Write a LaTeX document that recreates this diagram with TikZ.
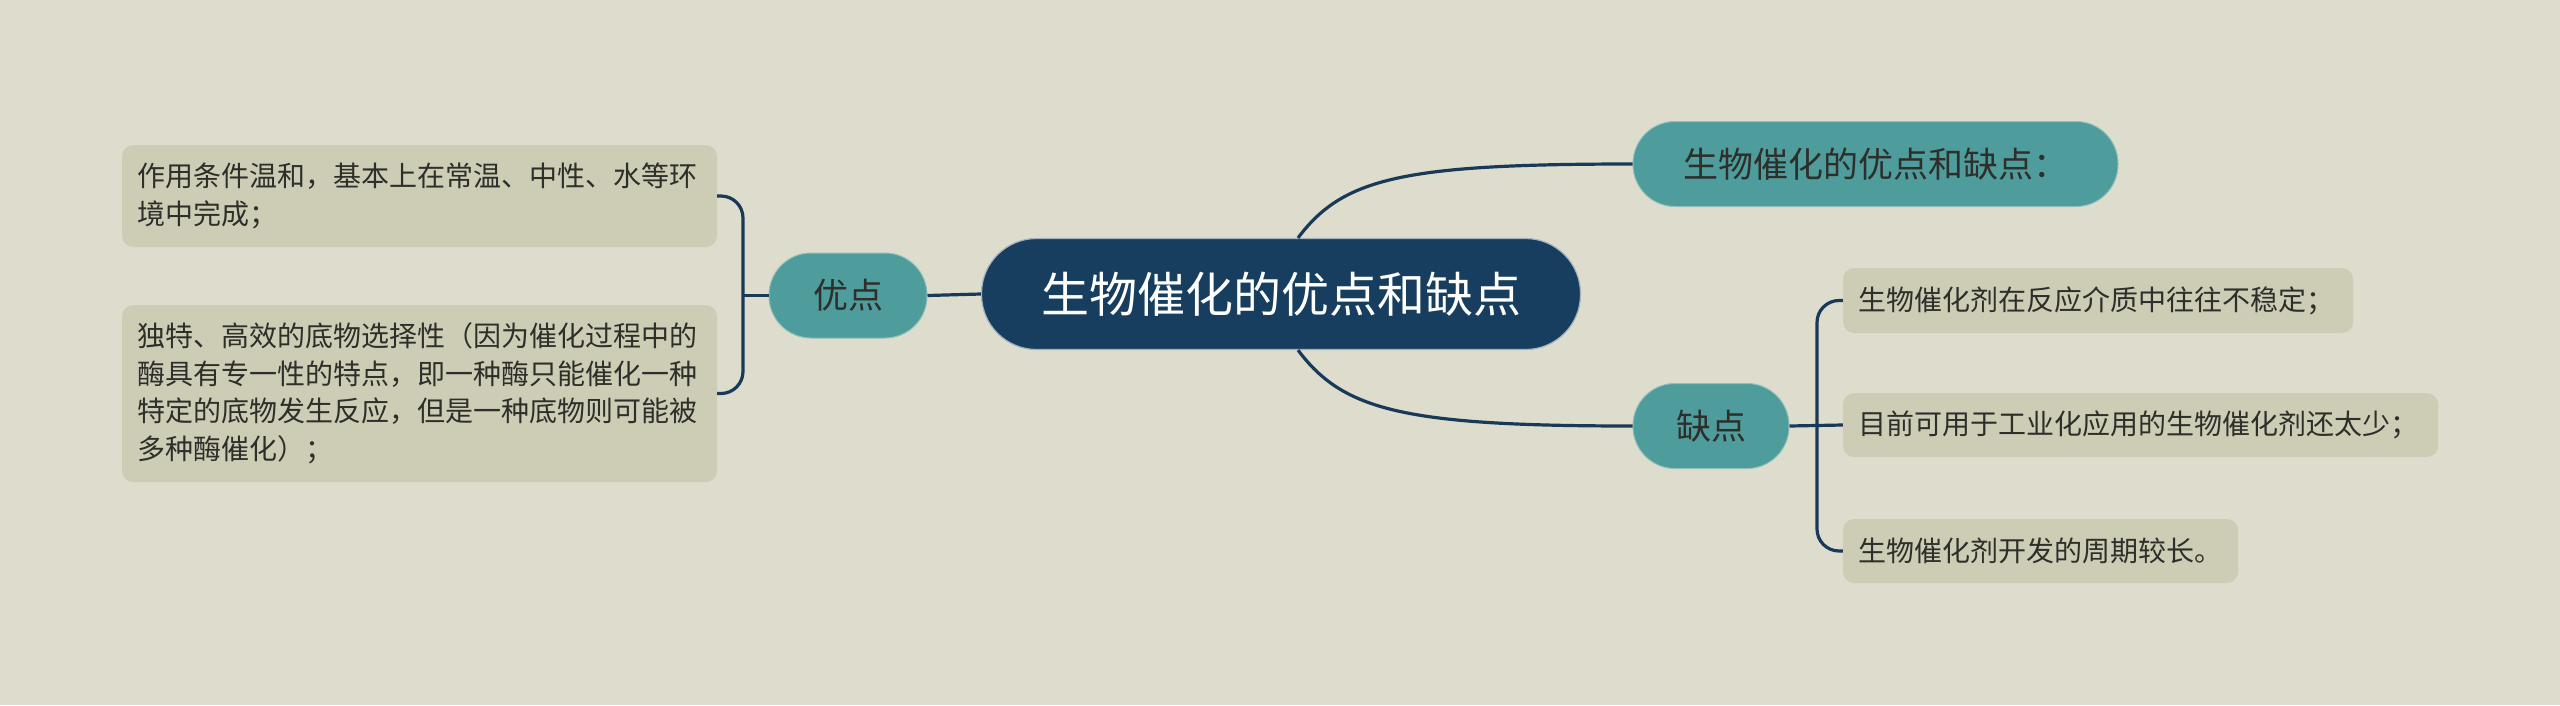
\documentclass[tikz,border=0pt]{standalone}
\usepackage{fontspec}
\newfontfamily\cjk{Noto Sans CJK SC}
\definecolor{bgc}{HTML}{DEDDCD}
\definecolor{leafc}{HTML}{CDCCB5}
\definecolor{tealc}{HTML}{4E9C9B}
\definecolor{rootc}{HTML}{173E5F}
\definecolor{linec}{HTML}{183A58}
\definecolor{txtc}{HTML}{2E2E2A}
\begin{document}
\begin{tikzpicture}[x=1pt,y=-1pt,
  conn/.style={draw=linec,line width=3.2pt},
  rootbox/.style={fill=rootc,draw=white!60!rootc,line width=1.2pt,rounded corners=55pt,minimum width=599pt,minimum height=111pt,inner sep=0pt,text=white,font=\cjk\fontsize{48}{56}\selectfont},
  tealbox/.style={fill=tealc,draw=white!35!tealc,line width=1pt,rounded corners=42pt,minimum height=85pt,inner sep=0pt,text=txtc,font=\cjk\fontsize{35}{42}\selectfont},
  leafbox/.style={fill=leafc,rounded corners=11pt,inner xsep=15pt,inner ysep=0pt,align=left,text=txtc,font=\cjk\fontsize{28}{37.5}\selectfont}
]
\fill[bgc] (0,0) rectangle (2560,705);
\useasboundingbox (0,0) rectangle (2560,705);

% nodes
\node[rootbox] (root) at (1281,294) {生物催化的优点和缺点};
\node[tealbox,minimum width=485pt] (top) at (1875.5,164) {生物催化的优点和缺点：};
\node[tealbox,minimum width=156pt] (que) at (1711,426) {缺点};
\node[tealbox,minimum width=158pt] (you) at (848,295.5) {优点};

\node[leafbox,text width=565pt,minimum height=102pt] (L1) at (419.5,196) {作用条件温和，基本上在常温、中性、水等环\\境中完成；};
\node[leafbox,text width=565pt,minimum height=177pt] (L2) at (419.5,393.5) {独特、高效的底物选择性（因为催化过程中的\\酶具有专一性的特点，即一种酶只能催化一种\\特定的底物发生反应，但是一种底物则可能被\\多种酶催化）；};

\node[leafbox,text width=480pt,minimum height=65pt] (R1) at (2098,300.5) {生物催化剂在反应介质中往往不稳定；};
\node[leafbox,text width=565pt,minimum height=64pt] (R2) at (2140.5,425) {目前可用于工业化应用的生物催化剂还太少；};
\node[leafbox,text width=365pt,minimum height=64pt] (R3) at (2040.5,551) {生物催化剂开发的周期较长。};

\coordinate (bx) at (743,295.5);
\coordinate (bq) at (1817,426);

% connectors
\draw[conn] ([xshift=17pt]root.north) .. controls +(45,-60) and +(-230,0) .. (top.west);
\draw[conn] ([xshift=17pt]root.south) .. controls +(45,60) and +(-230,0) .. (que.west);
\draw[conn] (root.west) -- (you.east);
\draw[conn] (you.west) -- (bx);
\draw[conn,rounded corners=22pt] (L1.east) -| (bx) |- (L2.east);
\draw[conn] (que.east) -- (R2.west);
\draw[conn,rounded corners=22pt] (R1.west) -| (bq) |- (R3.west);
\end{tikzpicture}
\end{document}
